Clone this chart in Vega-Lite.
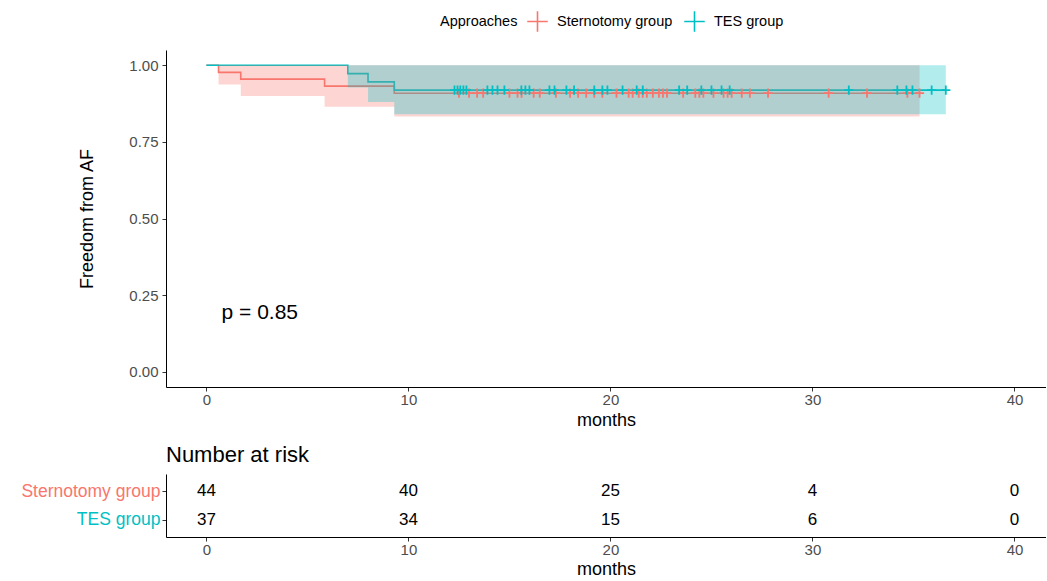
{
  "$schema": "https://vega.github.io/schema/vega-lite/v6.json",
  "padding": {"left": 20, "top": 10, "right": 0, "bottom": 4},
  "background": "white",
  "config": {
    "font": "Liberation Sans",
    "view": {"stroke": null},
    "axis": {"grid": false, "domainColor": "#000000", "domainWidth": 1, "tickColor": "#333333", "labelColor": "#4d4d4d", "labelFontSize": 15, "titleFontSize": 18, "titleFontWeight": "normal", "titleColor": "#000000", "tickSize": 4, "labelPadding": 2},
    "concat": {"spacing": 15}
  },
  "resolve": {"legend": {"color": "independent"}},
  "datasets": {
    "curves": [
      {"group": "Sternotomy group", "time": 0, "surv": 1},
      {"group": "Sternotomy group", "time": 0.6, "surv": 0.977},
      {"group": "Sternotomy group", "time": 1.7, "surv": 0.955},
      {"group": "Sternotomy group", "time": 5.85, "surv": 0.932},
      {"group": "Sternotomy group", "time": 9.3, "surv": 0.909},
      {"group": "Sternotomy group", "time": 35.3, "surv": 0.909},
      {"group": "TES group", "time": 0, "surv": 1},
      {"group": "TES group", "time": 7.0, "surv": 0.973},
      {"group": "TES group", "time": 8.0, "surv": 0.946},
      {"group": "TES group", "time": 9.3, "surv": 0.919},
      {"group": "TES group", "time": 36.6, "surv": 0.919}
    ],
    "bands": [
      {"group": "Sternotomy group", "time": 0, "lower": 1, "upper": 1},
      {"group": "Sternotomy group", "time": 0.6, "lower": 0.937, "upper": 1},
      {"group": "Sternotomy group", "time": 1.7, "lower": 0.9, "upper": 1},
      {"group": "Sternotomy group", "time": 5.85, "lower": 0.865, "upper": 1},
      {"group": "Sternotomy group", "time": 9.3, "lower": 0.833, "upper": 1},
      {"group": "Sternotomy group", "time": 35.3, "lower": 0.833, "upper": 1},
      {"group": "TES group", "time": 0, "lower": 1, "upper": 1},
      {"group": "TES group", "time": 7.0, "lower": 0.928, "upper": 1},
      {"group": "TES group", "time": 8.0, "lower": 0.88, "upper": 1},
      {"group": "TES group", "time": 9.3, "lower": 0.84, "upper": 1},
      {"group": "TES group", "time": 36.6, "lower": 0.84, "upper": 1}
    ],
    "censor": [
      {"group": "Sternotomy group", "time": 12.5, "surv": 0.909},
      {"group": "Sternotomy group", "time": 13.0, "surv": 0.909},
      {"group": "Sternotomy group", "time": 13.4, "surv": 0.909},
      {"group": "Sternotomy group", "time": 13.7, "surv": 0.909},
      {"group": "Sternotomy group", "time": 15.0, "surv": 0.909},
      {"group": "Sternotomy group", "time": 15.4, "surv": 0.909},
      {"group": "Sternotomy group", "time": 15.6, "surv": 0.909},
      {"group": "Sternotomy group", "time": 16.2, "surv": 0.909},
      {"group": "Sternotomy group", "time": 16.5, "surv": 0.909},
      {"group": "Sternotomy group", "time": 17.3, "surv": 0.909},
      {"group": "Sternotomy group", "time": 18.0, "surv": 0.909},
      {"group": "Sternotomy group", "time": 18.4, "surv": 0.909},
      {"group": "Sternotomy group", "time": 18.8, "surv": 0.909},
      {"group": "Sternotomy group", "time": 19.2, "surv": 0.909},
      {"group": "Sternotomy group", "time": 19.6, "surv": 0.909},
      {"group": "Sternotomy group", "time": 20.3, "surv": 0.909},
      {"group": "Sternotomy group", "time": 20.9, "surv": 0.909},
      {"group": "Sternotomy group", "time": 21.1, "surv": 0.909},
      {"group": "Sternotomy group", "time": 21.4, "surv": 0.909},
      {"group": "Sternotomy group", "time": 21.6, "surv": 0.909},
      {"group": "Sternotomy group", "time": 21.8, "surv": 0.909},
      {"group": "Sternotomy group", "time": 22.1, "surv": 0.909},
      {"group": "Sternotomy group", "time": 22.4, "surv": 0.909},
      {"group": "Sternotomy group", "time": 22.6, "surv": 0.909},
      {"group": "Sternotomy group", "time": 22.8, "surv": 0.909},
      {"group": "Sternotomy group", "time": 23.6, "surv": 0.909},
      {"group": "Sternotomy group", "time": 24.2, "surv": 0.909},
      {"group": "Sternotomy group", "time": 24.4, "surv": 0.909},
      {"group": "Sternotomy group", "time": 24.6, "surv": 0.909},
      {"group": "Sternotomy group", "time": 25.1, "surv": 0.909},
      {"group": "Sternotomy group", "time": 25.6, "surv": 0.909},
      {"group": "Sternotomy group", "time": 25.8, "surv": 0.909},
      {"group": "Sternotomy group", "time": 26.0, "surv": 0.909},
      {"group": "Sternotomy group", "time": 26.5, "surv": 0.909},
      {"group": "Sternotomy group", "time": 26.9, "surv": 0.909},
      {"group": "Sternotomy group", "time": 27.8, "surv": 0.909},
      {"group": "Sternotomy group", "time": 30.8, "surv": 0.909},
      {"group": "Sternotomy group", "time": 32.7, "surv": 0.909},
      {"group": "Sternotomy group", "time": 34.7, "surv": 0.909},
      {"group": "Sternotomy group", "time": 35.3, "surv": 0.909},
      {"group": "TES group", "time": 12.28, "surv": 0.919},
      {"group": "TES group", "time": 12.43, "surv": 0.919},
      {"group": "TES group", "time": 12.57, "surv": 0.919},
      {"group": "TES group", "time": 12.72, "surv": 0.919},
      {"group": "TES group", "time": 12.87, "surv": 0.919},
      {"group": "TES group", "time": 13.91, "surv": 0.919},
      {"group": "TES group", "time": 14.16, "surv": 0.919},
      {"group": "TES group", "time": 14.41, "surv": 0.919},
      {"group": "TES group", "time": 14.75, "surv": 0.919},
      {"group": "TES group", "time": 15.59, "surv": 0.919},
      {"group": "TES group", "time": 15.79, "surv": 0.919},
      {"group": "TES group", "time": 15.99, "surv": 0.919},
      {"group": "TES group", "time": 16.98, "surv": 0.919},
      {"group": "TES group", "time": 17.23, "surv": 0.919},
      {"group": "TES group", "time": 17.82, "surv": 0.919},
      {"group": "TES group", "time": 18.2, "surv": 0.919},
      {"group": "TES group", "time": 19.2, "surv": 0.919},
      {"group": "TES group", "time": 19.6, "surv": 0.919},
      {"group": "TES group", "time": 19.85, "surv": 0.919},
      {"group": "TES group", "time": 20.6, "surv": 0.919},
      {"group": "TES group", "time": 21.3, "surv": 0.919},
      {"group": "TES group", "time": 21.6, "surv": 0.919},
      {"group": "TES group", "time": 23.4, "surv": 0.919},
      {"group": "TES group", "time": 23.8, "surv": 0.919},
      {"group": "TES group", "time": 24.5, "surv": 0.919},
      {"group": "TES group", "time": 25.0, "surv": 0.919},
      {"group": "TES group", "time": 25.5, "surv": 0.919},
      {"group": "TES group", "time": 25.9, "surv": 0.919},
      {"group": "TES group", "time": 31.8, "surv": 0.919},
      {"group": "TES group", "time": 34.2, "surv": 0.919},
      {"group": "TES group", "time": 34.65, "surv": 0.919},
      {"group": "TES group", "time": 34.95, "surv": 0.919},
      {"group": "TES group", "time": 35.9, "surv": 0.919},
      {"group": "TES group", "time": 36.6, "surv": 0.919}
    ],
    "pval": [{"time": 0.75, "surv": 0.19, "label": "p = 0.85"}],
    "risk": [
      {"group": "Sternotomy group", "time": 0, "n": 44},
      {"group": "Sternotomy group", "time": 10, "n": 40},
      {"group": "Sternotomy group", "time": 20, "n": 25},
      {"group": "Sternotomy group", "time": 30, "n": 4},
      {"group": "Sternotomy group", "time": 40, "n": 0},
      {"group": "TES group", "time": 0, "n": 37},
      {"group": "TES group", "time": 10, "n": 34},
      {"group": "TES group", "time": 20, "n": 15},
      {"group": "TES group", "time": 30, "n": 6},
      {"group": "TES group", "time": 40, "n": 0}
    ]
  },
  "vconcat": [
    {
      "width": 880,
      "height": 337,
      "encoding": {
        "x": {"field": "time", "type": "quantitative", "scale": {"domain": [-2, 41.56], "nice": false, "zero": false},
              "axis": {"values": [0, 10, 20, 30, 40], "title": "months", "titlePadding": 4, "labelPadding": 1}},
        "y": {"type": "quantitative", "scale": {"domain": [-0.05, 1.05], "nice": false, "zero": false},
              "axis": {"values": [0, 0.25, 0.5, 0.75, 1], "format": ".2f", "title": "Freedom from AF", "titlePadding": 32, "labelPadding": 4}}
      },
      "layer": [
        {
          "data": {"name": "curves"},
          "mark": {"type": "line", "interpolate": "step-after", "strokeWidth": 1.6},
          "encoding": {
            "y": {"field": "surv", "type": "quantitative"},
            "color": {"field": "group", "type": "nominal", "scale": {"domain": ["Sternotomy group", "TES group"], "range": ["#F8766D", "#00BFC4"]},
                      "legend": {"title": "Approaches", "orient": "none", "legendX": 274, "legendY": -40, "direction": "horizontal", "titleOrient": "left",
                                 "symbolType": "M-1,0H1M0,-1V1", "symbolStrokeWidth": 1.6, "symbolSize": 420, "labelFontSize": 14.5, "titleFontSize": 14.5, "titleFontWeight": "normal", "titleColor": "#000000", "labelColor": "#000000", "columnPadding": 8, "labelOffset": 8, "titlePadding": 8}}
          }
        },
        {
          "data": {"name": "bands"},
          "mark": {"type": "area", "interpolate": "step-after", "opacity": 0.3},
          "encoding": {
            "y": {"field": "lower", "type": "quantitative"},
            "y2": {"field": "upper"},
            "color": {"field": "group", "type": "nominal", "legend": null}
          }
        },
        {
          "data": {"name": "censor"},
          "mark": {"type": "point", "shape": "M-1,0H1M0,-1V1", "filled": false, "size": 85, "strokeWidth": 1.8, "opacity": 1},
          "encoding": {
            "y": {"field": "surv", "type": "quantitative"},
            "color": {"field": "group", "type": "nominal"}
          }
        },
        {
          "data": {"name": "pval"},
          "mark": {"type": "text", "align": "left", "baseline": "middle", "fontSize": 21, "color": "#000000"},
          "encoding": {
            "y": {"field": "surv", "type": "quantitative"},
            "text": {"field": "label"}
          }
        }
      ]
    },
    {
      "width": 880,
      "height": 63,
      "title": {"text": "Number at risk", "anchor": "start", "frame": "group", "fontSize": 22, "fontWeight": "normal", "color": "#000000", "offset": 7},
      "data": {"name": "risk"},
      "mark": {"type": "text", "fontSize": 17, "color": "#000000"},
      "encoding": {
        "x": {"field": "time", "type": "quantitative", "scale": {"domain": [-2, 41.56], "nice": false, "zero": false},
              "axis": {"values": [0, 10, 20, 30, 40], "title": "months", "titlePadding": 3, "labelPadding": 1}},
        "y": {"field": "group", "type": "nominal", "scale": {"type": "point", "padding": 0.6, "domain": ["Sternotomy group", "TES group"]},
              "axis": {"title": null, "labelFontSize": 17.5, "labelColor": {"condition": {"test": "datum.value == 'TES group'", "value": "#00BFC4"}, "value": "#F8766D"}}},
        "text": {"field": "n", "type": "quantitative"}
      }
    }
  ]
}
